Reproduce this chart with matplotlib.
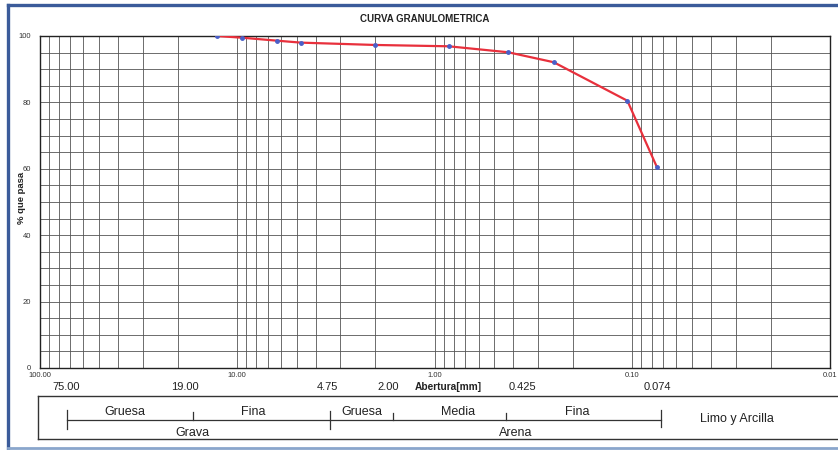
import matplotlib
matplotlib.use("Agg")
import matplotlib.pyplot as plt
from matplotlib.lines import Line2D
from matplotlib.ticker import LogLocator, FixedLocator, FuncFormatter, MultipleLocator, NullFormatter

plt.rcParams['font.family'] = ['Liberation Sans', 'DejaVu Sans']

# ---- data ----
sizes_mm = [12.7, 9.5, 6.3, 4.75, 2.00, 0.85, 0.425, 0.25, 0.106, 0.075]
passing = [100.0, 99.5, 98.6, 98.0, 97.3, 96.9, 95.1, 92.1, 80.5, 60.4]

title = "CURVA GRANULOMETRICA"
ylabel = "% que pasa"
xlabel = "Abertura[mm]"
x_major_ticks = [100, 10, 1, 0.1, 0.01]
x_major_labels = ["100.00", "10.00", "1.00", "0.10", "0.01"]
y_major_ticks = [0, 20, 40, 60, 80, 100]
sieve_labels = ["75.00", "19.00", "4.75", "2.00", "0.425", "0.074"]
top_row = ["Gruesa", "Fina", "Gruesa", "Media", "Fina"]
bottom_row = ["Grava", "Arena"]
fines_label = "Limo y Arcilla"

W, H = 838, 450
fig = plt.figure(figsize=(W / 100, H / 100), dpi=100)
fig.patch.set_facecolor("white")


def fx(x):
    return x / W


def fy(y):
    return 1 - y / H


L, R, T, B = 39.5, 830, 36, 368
ax = fig.add_axes([fx(L), fy(B), fx(R) - fx(L), fy(T) - fy(B)])
ax.set_xscale("log")
ax.set_xlim(100, 0.01)
ax.set_ylim(0, 100)

ax.xaxis.set_major_locator(FixedLocator(x_major_ticks))
ax.xaxis.set_major_formatter(FuncFormatter(
    lambda v, p: dict(zip(x_major_ticks, x_major_labels)).get(
        min(x_major_ticks, key=lambda t: abs(t - v)), "")))
ax.xaxis.set_minor_locator(LogLocator(base=10, subs=range(2, 10), numticks=50))
ax.xaxis.set_minor_formatter(NullFormatter())
ax.yaxis.set_major_locator(FixedLocator(y_major_ticks))
ax.yaxis.set_minor_locator(MultipleLocator(5))

ax.grid(True, which="both", axis="both", color="#555555", linewidth=0.6)
ax.set_axisbelow(True)
ax.tick_params(which="both", length=0)
ax.tick_params(axis="x", labelsize=5.5, pad=3, colors="#333333")
ax.tick_params(axis="y", labelsize=5.5, pad=6, colors="#333333")
for s in ax.spines.values():
    s.set_color("#222222")
    s.set_linewidth(1.0)

ax.plot(sizes_mm, passing, color="#e8303c", linewidth=1.6, zorder=3)
ax.plot(sizes_mm, passing, linestyle="none", marker="o", markersize=2.5,
        color="#4a5fc8", zorder=4)

# title and labels
fig.text(fx(425), fy(19), title, ha="center", va="center", fontsize=7,
         fontweight="bold", color="#222222")
fig.text(fx(22), fy(198), ylabel, ha="center", va="center", rotation=90,
         fontsize=6.8, fontweight="bold", color="#222222")

sieve_x = [66, 185, 327, 388, 522, 657]
for lab, x in zip(sieve_labels, sieve_x):
    fig.text(fx(x), fy(387.5), lab, ha="center", va="center", fontsize=8,
             color="#222222")
fig.text(fx(448), fy(387.5), xlabel, ha="center", va="center", fontsize=7.3,
         fontweight="bold", color="#222222")

# classification table
lc = "#333333"
fig.add_artist(Line2D([fx(38), fx(38)], [fy(396), fy(439)], color=lc, lw=1.0))
fig.add_artist(Line2D([fx(38), fx(845)], [fy(396), fy(396)], color=lc, lw=1.0))
fig.add_artist(Line2D([fx(38), fx(845)], [fy(439), fy(439)], color=lc, lw=1.0))
fig.add_artist(Line2D([fx(67), fx(661)], [fy(420), fy(420)], color=lc, lw=0.9))
for x, y0, y1 in [(67, 410, 429), (193, 412, 420), (330, 411, 429),
                  (393, 413, 420), (506, 413, 420), (661, 410, 427)]:
    fig.add_artist(Line2D([fx(x), fx(x)], [fy(y0), fy(y1)], color=lc, lw=0.9))

for lab, x in zip(top_row, [125, 253, 362, 458, 577]):
    fig.text(fx(x), fy(412), lab, ha="center", va="center", fontsize=9,
             color="#222222")
for lab, x in zip(bottom_row, [192, 516]):
    fig.text(fx(x), fy(433), lab, ha="center", va="center", fontsize=9,
             color="#222222")
fig.text(fx(737), fy(419), fines_label, ha="center", va="center", fontsize=9,
         color="#222222")

# blue frame
bc = "#3b5b9a"
fig.add_artist(Line2D([fx(8), fx(8)], [fy(5), fy(448)], color=bc, lw=2.4))
fig.add_artist(Line2D([fx(8), fx(840)], [fy(5), fy(5)], color=bc, lw=2.4))
fig.add_artist(Line2D([fx(8), fx(840)], [fy(448), fy(448)], color="#8aa6cc", lw=2.0))

fig.savefig("out.png", dpi=100, facecolor="white")
